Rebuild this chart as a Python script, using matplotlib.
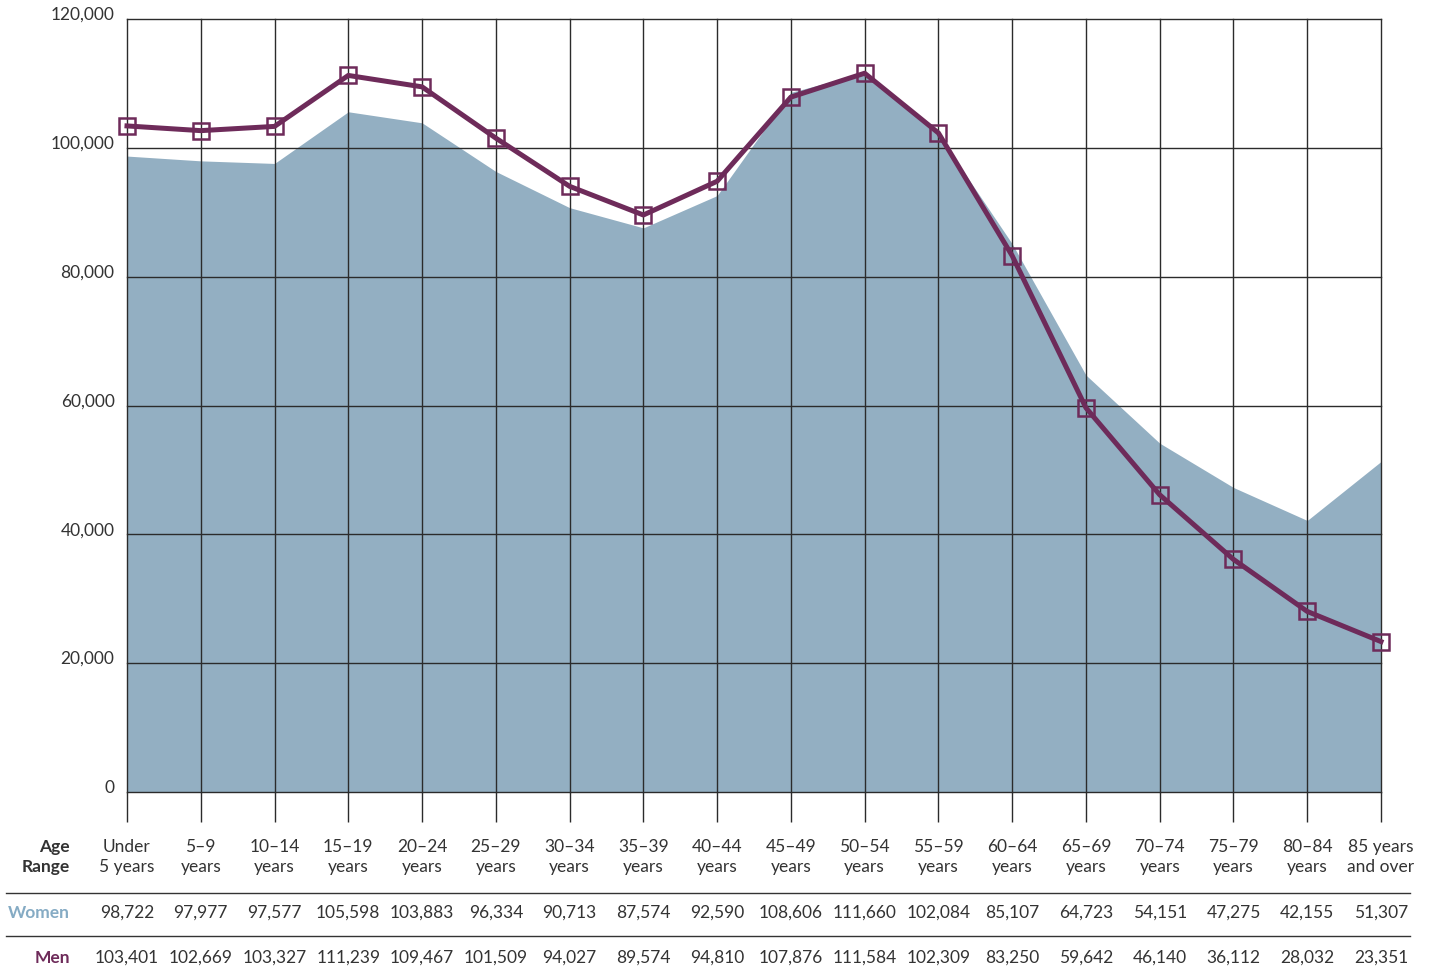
import numpy as np
import matplotlib.pyplot as plt
import matplotlib.transforms as mtransforms

plt.rcParams['font.family'] = ['Lato', 'DejaVu Sans']

age_groups = ['Under\n5 years', '5–9\nyears', '10–14\nyears', '15–19\nyears', '20–24\nyears',
              '25–29\nyears', '30–34\nyears', '35–39\nyears', '40–44\nyears', '45–49\nyears',
              '50–54\nyears', '55–59\nyears', '60–64\nyears', '65–69\nyears', '70–74\nyears',
              '75–79\nyears', '80–84\nyears', '85 years\nand over']
women = [98722, 97977, 97577, 105598, 103883, 96334, 90713, 87574, 92590,
         108606, 111660, 102084, 85107, 64723, 54151, 47275, 42155, 51307]
men = [103401, 102669, 103327, 111239, 109467, 101509, 94027, 89574, 94810,
       107876, 111584, 102309, 83250, 59642, 46140, 36112, 28032, 23351]
y_ticks = [0, 20000, 40000, 60000, 80000, 100000, 120000]

area_col = '#93afc2'
men_col = '#6e2b5a'
women_lbl = '#85abc4'
text_col = '#333333'

fig = plt.figure(figsize=(14.31, 9.69), dpi=100)
ax = fig.add_axes([127 / 1431, 1 - 792 / 969, (1381 - 127) / 1431, (792 - 19) / 969])

x = np.arange(len(age_groups))
ax.fill_between(x, 0, women, color=area_col, lw=0, zorder=1)
ax.plot(x, men, color=men_col, lw=3.6, marker='s', markersize=12,
        markerfacecolor='none', markeredgecolor=men_col, markeredgewidth=1.8,
        zorder=3, clip_on=False)

ax.set_xlim(x[0], x[-1])
ax.set_ylim(0, 120000)
ax.set_xticks(x)
ax.set_xticklabels([])
ax.set_yticks(y_ticks)
ax.set_yticklabels([f'{v:,}' for v in y_ticks], color=text_col, fontsize=12.5)
ax.set_axisbelow(False)
ax.grid(True, color='#2b2b2b', lw=1)
for gl in ax.get_xgridlines() + ax.get_ygridlines():
    gl.set_clip_on(False)
ax.tick_params(axis='x', direction='out', length=21.6, width=1, color='#2b2b2b')
ax.tick_params(axis='y', length=0, pad=9)
shift = mtransforms.ScaledTranslation(0, 4 / 72, fig.dpi_scale_trans)
for lbl in ax.get_yticklabels():
    lbl.set_transform(lbl.get_transform() + shift)
for s in ax.spines.values():
    s.set_visible(False)

# table under the chart
trans = mtransforms.blended_transform_factory(ax.transData, fig.transFigure)
for xi, lab, w, m in zip(x, age_groups, women, men):
    ax.text(xi, 1 - 857 / 969, lab, transform=trans, ha='center', va='center',
            fontsize=12.5, color=text_col, linespacing=1.3)
    ax.text(xi, 1 - 913 / 969, f'{w:,}', transform=trans, ha='center', va='center',
            fontsize=12.5, color=text_col)
    ax.text(xi, 1 - 958 / 969, f'{m:,}', transform=trans, ha='center', va='center',
            fontsize=12.5, color=text_col)

fig.text(70 / 1431, 1 - 857 / 969, 'Age\nRange', ha='right', va='center', fontsize=12.5,
         fontweight='bold', color=text_col, linespacing=1.3)
fig.text(70 / 1431, 1 - 913 / 969, 'Women', ha='right', va='center', fontsize=12.5,
         fontweight='bold', color=women_lbl)
fig.text(70 / 1431, 1 - 958 / 969, 'Men', ha='right', va='center', fontsize=12.5,
         fontweight='bold', color=men_col)

for yl in [893, 936]:
    fig.add_artist(plt.Line2D([6 / 1431, 1410 / 1431], [1 - yl / 969, 1 - yl / 969],
                              color='#333333', lw=1))

fig.savefig('out.png', dpi=100)
